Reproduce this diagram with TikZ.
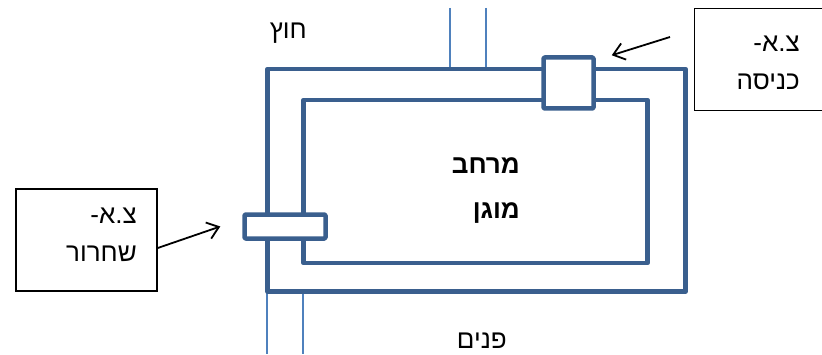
\documentclass[tikz,border=0pt]{standalone}
\usepackage{fontspec}
\setmainfont{Liberation Sans}
\newfontfamily\hebfont[Script=Hebrew]{Liberation Sans}
\TeXXeTstate=1
\usepackage{xcolor}
\usetikzlibrary{positioning,calc,arrows.meta}
\definecolor{wallblue}{HTML}{3A5F8E}
\definecolor{pipeblue}{HTML}{4F81BD}

\begin{document}
\begin{tikzpicture}[x=10pt,y=10pt,
    wall/.style={draw=wallblue,line width=4.5pt,line join=round},
    door/.style={wall,fill=white,inner sep=0pt,rounded corners=1pt},
    pipe/.style={draw=pipeblue,line width=1.3pt},
    tagbox/.style={draw=black,line width=1.5pt,minimum width=141pt,minimum height=102pt,inner sep=0pt},
    tagtext/.style={anchor=east,align=right,inner sep=0pt,font=\hebfont\fontsize{26}{38}\selectfont},
    roomtext/.style={anchor=east,align=right,inner sep=0pt,font=\hebfont\bfseries\fontsize{26}{45}\selectfont},
    pointer/.style={-{Straight Barb[length=11pt,width=17pt]},line width=1.8pt}]
    \useasboundingbox (0,0) rectangle (82.2,35.4);

    % Pipes through the walls
    \draw[pipe] (45.0,34.6) -- (45.0,28.5);
    \draw[pipe] (48.6,34.6) -- (48.6,28.5);
    \draw[pipe] (26.7,6.2) -- (26.7,0);
    \draw[pipe] (30.3,6.2) -- (30.3,0);

    % Walls
    \draw[wall] (26.75,6.25) rectangle (68.55,28.5);
    \draw[wall] (30.35,9.1) rectangle (64.75,25.4);

    % Doors
    \node[door,minimum width=50pt,minimum height=51pt] (entry) at (56.85,27.1) {};
    \node[door,minimum width=81pt,minimum height=24pt] (exit) at (28.5,12.75) {};

    % Outside / inside
    \node[tagtext] (outside) at (30.7,32.1) {\beginR חוץ\endR};
    \node[tagtext] (inside) at (50.7,1.3) {\beginR פנים\endR};
    \node[roomtext] (room) at (52.0,16.3) {\beginR מרחב\endR\\\beginR מוגן\endR};

    % Entry label
    \node[tagbox] (entrybox) at (76.5,29.45) {};
    \node[tagtext] (entrytext) at (80.0,29.15) {\beginR צ.א-\endR\\\beginR כניסה\endR};
    \coordinate (entryfrom) at (67.0,31.7);
    \coordinate (entryto) at ([xshift=16pt]entry.north east);
    \draw[pointer] (entryfrom) -- (entryto);

    % Exit label
    \node[tagbox] (exitbox) at (8.65,11.4) {};
    \node[tagtext] (exittext) at (13.7,11.95) {\beginR צ.א-\endR\\\beginR שחרור\endR};
    \coordinate (exitfrom) at ([yshift=-8pt]exitbox.east);
    \coordinate (exitto) at ([xshift=-22pt]exit.west);
    \draw[pointer] (exitfrom) -- (exitto);
\end{tikzpicture}
\end{document}
